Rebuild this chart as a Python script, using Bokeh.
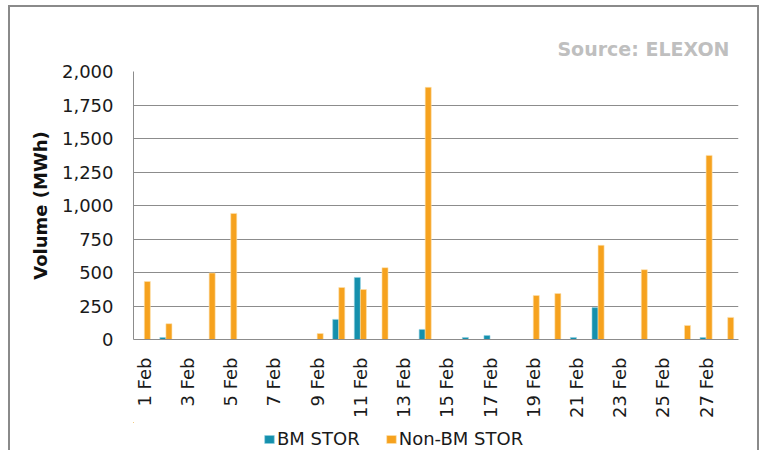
import math
from bokeh.plotting import figure
from bokeh.layouts import column
from bokeh.models import (ColumnDataSource, FixedTicker, NumeralTickFormatter,
                          Legend, LegendItem, Range1d, Title)
from bokeh.embed import file_html
from bokeh.resources import INLINE

days = ["1 Feb", "2 Feb", "3 Feb", "4 Feb", "5 Feb", "6 Feb", "7 Feb",
        "8 Feb", "9 Feb", "10 Feb", "11 Feb", "12 Feb", "13 Feb", "14 Feb",
        "15 Feb", "16 Feb", "17 Feb", "18 Feb", "19 Feb", "20 Feb", "21 Feb",
        "22 Feb", "23 Feb", "24 Feb", "25 Feb", "26 Feb", "27 Feb", "28 Feb"]
bm_stor = [0, 15, 0, 0, 0, 0, 0, 0, 0, 150, 463, 0, 0, 75,
           0, 15, 30, 0, 0, 0, 15, 238, 0, 0, 0, 0, 15, 0]
non_bm_stor = [433, 118, 0, 496, 941, 0, 0, 0, 45, 388, 373, 536, 0, 1882,
               0, 0, 0, 0, 328, 343, 0, 703, 0, 521, 0, 105, 1374, 165]
y_ticks = [0, 250, 500, 750, 1000, 1250, 1500, 1750, 2000]
series_names = ["BM STOR", "Non-BM STOR"]

FONT = "DejaVu Sans"
BM_COLOR = "#1590ad"
NON_COLOR = "#f6a21e"
GRID = "#8c8c8c"
BORDER = "2px solid #8a8a8a"

pos = list(range(1, len(days) + 1))
src = ColumnDataSource(dict(
    x_bm=[p_ - 0.14 for p_ in pos],
    x_non=[p_ + 0.14 for p_ in pos],
    bm=bm_stor, non=non_bm_stor, day=days))

p = figure(width=747, height=415, output_backend="svg", toolbar_location=None,
           x_range=Range1d(0.5, len(days) + 0.5), y_range=Range1d(0, 2000),
           min_border_left=123, min_border_right=23, min_border_top=64,
           min_border_bottom=85)
p.styles = {"box-sizing": "content-box",
            "margin-left": "8px", "margin-top": "5px",
            "border-left": BORDER, "border-top": BORDER, "border-right": BORDER}
p.outline_line_color = None

bar_style_bm = dict(fill_color=BM_COLOR, line_color="#8fd0e0", line_width=0.6)
bar_style_non = dict(fill_color=NON_COLOR, line_color="#fde2b0", line_width=0.6)

p.vbar(x="x_bm", top="bm", width=0.28, source=src, **bar_style_bm)
p.vbar(x="x_non", top="non", width=0.28, source=src, **bar_style_non)

# axes
p.xgrid.grid_line_color = None
p.ygrid.grid_line_color = GRID
p.ygrid.grid_line_width = 1
p.yaxis.ticker = FixedTicker(ticks=y_ticks)
p.yaxis.formatter = NumeralTickFormatter(format="0,0")
p.yaxis.axis_label = "Volume (MWh)"
p.yaxis.axis_label_text_font = FONT
p.yaxis.axis_label_text_font_style = "bold"
p.yaxis.axis_label_text_font_size = "18px"
p.yaxis.axis_label_text_color = "#111111"
p.yaxis.axis_label_standoff = 8
p.yaxis.major_tick_out = 6
p.yaxis.major_tick_in = 0
p.yaxis.major_label_standoff = 14

label_pos = pos[::2]
p.xaxis.ticker = FixedTicker(ticks=label_pos,
                             minor_ticks=[x_ - 0.5 for x_ in pos] + [len(days) + 0.5])
p.xaxis.major_label_overrides = {x_: days[x_ - 1] for x_ in label_pos}
p.xaxis.major_label_orientation = math.pi / 2
p.xaxis.major_tick_out = 0
p.xaxis.major_tick_in = 0
p.xaxis.minor_tick_out = 5
p.xaxis.minor_tick_in = 0
p.xaxis.major_label_standoff = 13

for ax in (p.xaxis, p.yaxis):
    ax.axis_line_color = GRID
    ax.axis_line_width = 1
    ax.major_tick_line_color = GRID if ax is p.yaxis else None
    ax.minor_tick_line_color = GRID if ax is p.xaxis else None
    ax.major_label_text_font = FONT
    ax.major_label_text_font_size = "18px"
    ax.major_label_text_color = "#1a1a1a"

# source title
t = Title(text="Source: ELEXON", align="right", text_font=FONT,
          text_font_style="bold", text_font_size="19px", text_color="#bfbfbf",
          offset=9, standoff=23)
p.add_layout(t, "above")

# legend strip below the chart (its bars sit outside its visible range)
pl = figure(width=747, height=28, output_backend="svg", toolbar_location=None,
            x_range=Range1d(1000, 1001), y_range=Range1d(-1001, -1000),
            x_axis_type=None, y_axis_type=None,
            min_border_left=0, min_border_right=0, min_border_top=0,
            min_border_bottom=0)
pl.styles = {"box-sizing": "content-box", "margin-left": "8px",
             "border-left": BORDER, "border-right": BORDER}
pl.outline_line_color = None
lr1 = pl.vbar(x="x_bm", top="bm", width=0.28, source=src, **bar_style_bm)
lr2 = pl.vbar(x="x_non", top="non", width=0.28, source=src, **bar_style_non)

legend = Legend(items=[LegendItem(label=series_names[0], renderers=[lr1]),
                       LegendItem(label=series_names[1], renderers=[lr2])],
                orientation="horizontal", location=(130, 1),
                glyph_width=12, glyph_height=10, label_standoff=2, spacing=25,
                padding=0, margin=0, border_line_alpha=0,
                background_fill_alpha=0, label_text_font=FONT,
                label_text_font_size="18px", label_height=20,
                label_text_color="#1a1a1a")
pl.add_layout(legend, "center")

layout = column(p, pl, spacing=0)
open("out.html", "w").write(file_html(layout, INLINE))
